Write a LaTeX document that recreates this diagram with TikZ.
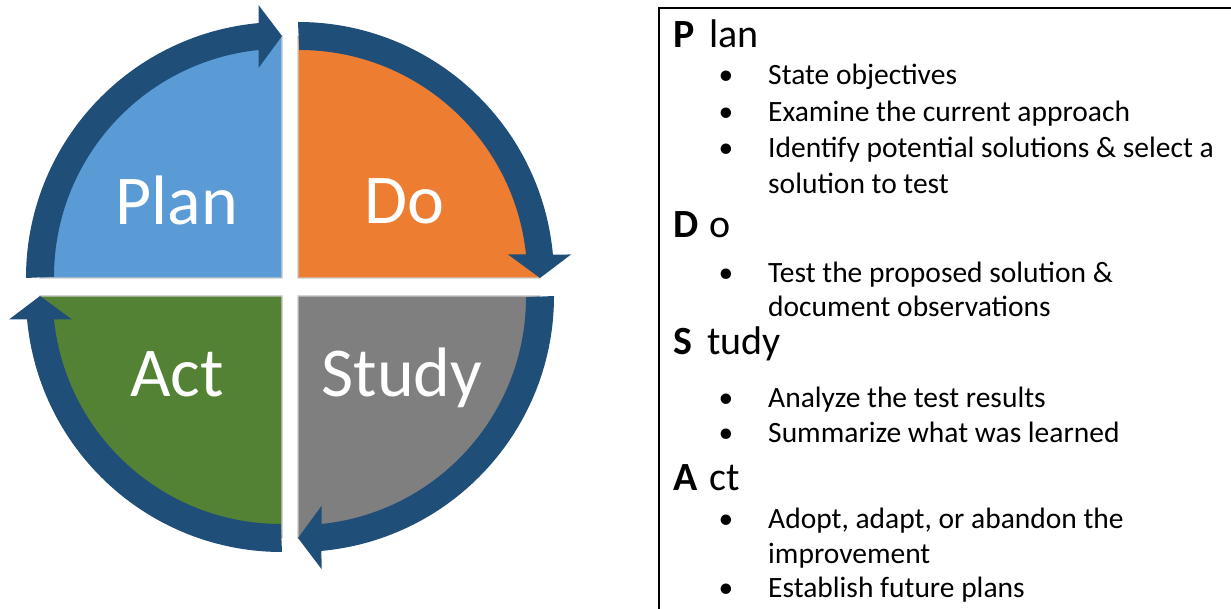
\documentclass[tikz,border=0pt]{standalone}
\usepackage{fontspec}
\setmainfont{Carlito}
\usetikzlibrary{calc}
\definecolor{ringblue}{HTML}{1F4E79}
\definecolor{planblue}{HTML}{5B9BD5}
\definecolor{doorange}{HTML}{ED7D31}
\definecolor{studygray}{HTML}{7F7F7F}
\definecolor{actgreen}{HTML}{548235}
\definecolor{edgegray}{HTML}{C9C9C9}
\newcommand\pdsaquad[3]{%
  % #1 centre, #2 start angle, #3 colour
  \fill[#3, draw=edgegray, line width=1.2pt] (#1) -- ($(#1)+(#2:242)$)
    arc[start angle=#2, end angle={#2+90}, radius=242] -- cycle;
  \fill[ringblue] ($(#1)+(#2:256)$)
    arc[start angle=#2, end angle={#2+90-5.267}, radius=256]
    -- ($(#1)+({#2+90}:273)+({#2}:23.5)$)
    -- ($(#1)+({#2+90}:242)$)
    -- ($(#1)+({#2+90}:210)+({#2}:23.5)$)
    -- ($(#1)+({#2+90}:228)+({#2}:23.5)$)
    arc[start angle={#2+90-5.916}, end angle=#2, radius=228] -- cycle;
}
\tikzset{
  quadlabel/.style={text=white, inner sep=0pt, anchor=base, font=\fontsize{70}{84}\selectfont},
  head/.style={inner sep=0pt, anchor=base west, font=\fontsize{40}{48}\selectfont},
  bul/.style={inner sep=0pt, anchor=base, font=\fontsize{29.5}{35}\selectfont},
  item/.style={inner sep=0pt, anchor=base west, font=\fontsize{29.5}{35}\selectfont},
}
\begin{document}
\begin{tikzpicture}[x=1pt,y=-1pt]
\useasboundingbox (0,0) rectangle (1231,609);
\clip (0,0) rectangle (1231,609);
\coordinate (cP) at (282,278);
\coordinate (cD) at (298,278);
\coordinate (cS) at (298,296);
\coordinate (cA) at (282,296);
\pdsaquad{cP}{180}{planblue}
\pdsaquad{cD}{270}{doorange}
\pdsaquad{cS}{0}{studygray}
\pdsaquad{cA}{90}{actgreen}
\node[quadlabel] (lPlan) at (177,225) {Plan};
\node[quadlabel] (lDo) at (404,224) {Do};
\node[quadlabel] (lAct) at (177,396) {Act};
\node[quadlabel] (lStudy) at (402,396) {Study};
% text box
\draw[line width=2pt] (1240,8) -- (658.5,8) -- (658.5,620);
% Plan
\node[head] (hP) at (673,48) {\makebox[36pt][l]{\textbf{P}}lan};
\node[bul] (b1) at (726,85) {•};
\node[item] (t1) at (768,85) {State objectives};
\node[bul] (b2) at (726,122) {•};
\node[item] (t2) at (768,122) {Examine the current approach};
\node[bul] (b3) at (726,158) {•};
\node[item] (t3) at (768,158) {Identify potential solutions \& select a};
\node[item] (t3b) at (768,194) {solution to test};
% Do
\node[head] (hD) at (673,238) {\makebox[36pt][l]{\textbf{D}}o};
\node[bul] (b4) at (726,283) {•};
\node[item] (t4) at (768,283) {Test the proposed solution \&};
\node[item] (t4b) at (768,317) {document observations};
% Study
\node[head] (hS) at (673,355) {\makebox[34pt][l]{\textbf{S}}tudy};
\node[bul] (b5) at (726,407) {•};
\node[item] (t5) at (768,407) {Analyze the test results};
\node[bul] (b6) at (726,442) {•};
\node[item] (t6) at (768,442) {Summarize what was learned};
% Act
\node[head] (hA) at (673,490) {\makebox[36pt][l]{\textbf{A}}ct};
\node[bul] (b7) at (726,528) {•};
\node[item] (t7) at (768,528) {Adopt, adapt, or abandon the};
\node[item] (t7b) at (768,563) {improvement};
\node[bul] (b8) at (726,597) {•};
\node[item] (t8) at (768,597) {Establish future plans};
\end{tikzpicture}
\end{document}
